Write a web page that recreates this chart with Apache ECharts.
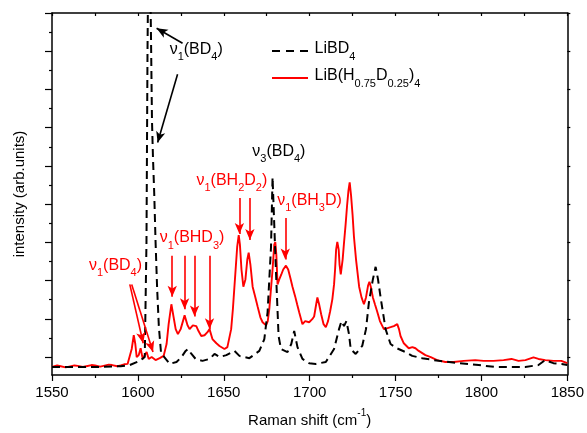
<!DOCTYPE html>
<html>
<head>
<meta charset="utf-8">
<script src="https://cdn.jsdelivr.net/npm/echarts@6/dist/echarts.min.js"></script>
<style>
html,body{margin:0;padding:0;background:#fff;}
#chart{width:587px;height:433px;}
</style>
</head>
<body>
<div id="chart"></div>
<script>
// ---- data (Raman shift in cm^-1, intensity in arb. units) ----
const blackX = [1550,1565,1578,1590,1595.3,1601.1,1604.0,1605.0,1605.6,1606.2,1607.0,1607.6,1608.2,1608.8,1609.5,1610.3,1611.2,1612.2,1613.5,1618.5,1622.5,1625.4,1627.8,1629.1,1631.2,1633.6,1637.6,1641.7,1644.6,1647.5,1651.5,1656.2,1659.1,1664.9,1670.7,1673.6,1675.5,1677.5,1678.4,1679.4,1680.4,1681.9,1683.3,1687.1,1689.3,1691.0,1692.9,1695.8,1699.7,1703.6,1709.4,1714.2,1717.1,1718.5,1720.0,1721.4,1722.9,1723.9,1726.8,1730.6,1732.8,1734.5,1736.8,1738.4,1739.8,1741.3,1744.2,1747.1,1750.8,1755.8,1759.7,1765.5,1775.1,1786.8,1798.4,1808.0,1825.5,1833.2,1837.1,1841.9,1846.7,1850];
const blackY = [-0.26,-0.26,-0.26,-0.24,-0.21,-0.10,0.0,3.0,8.0,11.0,10.5,8.5,6.2,5.2,4.3,3.0,1.8,0.8,0.1,-0.18,-0.13,0.0,0.16,0.21,0.08,-0.05,-0.10,-0.05,0.08,0.0,0.05,0.16,0.03,-0.03,0.16,0.47,1.17,2.88,4.70,3.45,2.21,0.55,0.21,0.13,0.34,0.68,0.26,-0.05,-0.16,-0.18,-0.13,0.21,0.73,0.94,0.81,0.94,0.60,0.21,0.08,0.29,0.73,1.43,2.03,2.36,2.03,1.56,0.73,0.34,0.23,0.13,0.03,-0.03,-0.10,-0.16,-0.21,-0.26,-0.26,-0.21,-0.08,-0.16,-0.18,-0.21];

const redX = [1550,1553,1555,1558,1560,1563,1565,1568,1570,1573,1575,1578,1580,1583,1585,1588,1590,1592,1594,1596.4,1597.6,1598.5,1599.3,1600.5,1601.6,1602.8,1604.0,1605.1,1606.3,1608.0,1610.3,1612.7,1615.0,1616.7,1617.9,1619.5,1620.8,1622.0,1623.3,1624.9,1627.2,1628.9,1630.1,1632.0,1634.0,1635.3,1636.9,1638.8,1640.5,1641.7,1643.4,1645.7,1647.5,1650.4,1652.1,1654.3,1655.3,1656.2,1657.1,1657.8,1658.7,1659.4,1660.3,1661.4,1662.6,1663.7,1664.5,1665.5,1666.8,1668.4,1669.7,1671.3,1672.6,1674.6,1675.6,1676.5,1677.7,1678.4,1679.4,1680.0,1680.6,1681.3,1682.3,1683.5,1684.6,1686.2,1687.5,1688.7,1690.0,1691.6,1692.7,1693.9,1695.8,1697.4,1699.7,1701.5,1702.6,1703.8,1704.5,1705.5,1706.7,1708.1,1709.4,1710.7,1711.9,1713.2,1714.2,1714.8,1715.4,1716.1,1716.9,1717.4,1718.1,1719.2,1720.0,1720.9,1721.8,1722.6,1723.3,1724.1,1725.0,1725.8,1727.0,1728.8,1730.2,1731.6,1732.8,1734.0,1734.8,1735.7,1736.8,1738.0,1739.3,1740.9,1743.2,1745.0,1747.1,1749.0,1751.0,1752.0,1752.9,1754.8,1757.7,1759.8,1761.6,1763.5,1767.4,1770.5,1774.2,1779.0,1783.9,1789.7,1796.4,1801.3,1807.1,1812.9,1817.5,1821.6,1825.6,1830.3,1833.2,1837.2,1841.9,1846.5,1850];
const redY = [-0.26,-0.22,-0.24,-0.27,-0.25,-0.22,-0.23,-0.26,-0.24,-0.21,-0.22,-0.25,-0.23,-0.20,-0.21,-0.24,-0.22,-0.19,-0.18,0.21,0.57,0.34,0.0,0.05,0.23,-0.05,0.05,0.13,-0.05,0.0,-0.08,-0.03,0.03,0.34,0.86,1.38,1.04,0.73,0.60,0.73,1.09,0.83,0.73,0.83,0.81,0.68,0.55,0.57,0.65,0.73,0.47,0.36,0.29,0.21,0.26,0.73,1.25,1.84,2.42,2.88,3.19,2.94,2.29,1.84,2.03,2.55,2.73,2.42,1.84,1.56,1.32,1.04,0.91,0.83,0.94,1.25,1.90,2.29,2.94,3.01,2.68,1.90,2.03,2.16,2.29,2.39,2.29,2.08,1.84,1.58,1.38,1.17,0.86,0.94,0.91,0.99,1.06,1.38,1.56,1.38,1.12,0.86,0.78,0.94,1.19,1.51,1.90,2.29,2.81,3.01,2.81,2.42,2.16,2.55,2.99,3.45,3.97,4.36,4.57,4.23,3.71,3.14,2.55,1.84,1.56,1.38,1.56,1.87,1.97,1.82,1.56,1.38,1.19,0.94,0.73,0.75,0.78,0.81,0.86,0.73,0.55,0.36,0.23,0.26,0.23,0.16,0.05,0.0,-0.08,-0.13,-0.13,-0.10,-0.08,-0.10,-0.10,-0.08,-0.05,-0.10,-0.08,-0.01,-0.05,-0.08,-0.10,-0.10,-0.16];

const seriesNames = ['LiBD4', 'LiB(H0.75D0.25)4'];

// annotation labels
const labelX = [1618.5, 1666.6, 1634.1, 1612.7, 1681.1, 1571.5];
const labelY = [8.0, 5.32, 4.57, 3.06, 4.05, 2.34];
const labelText = [
  '{t|ν}{s|1}{t|(BD}{s|4}{t|)}',
  '{t|ν}{s|3}{t|(BD}{s|4}{t|)}',
  '{t|ν}{s|1}{t|(BH}{s|2}{t|D}{s|2}{t|)}',
  '{t|ν}{s|1}{t|(BHD}{s|3}{t|)}',
  '{t|ν}{s|1}{t|(BH}{s|3}{t|D)}',
  '{t|ν}{s|1}{t|(BD}{s|4}{t|)}'
];
const labelSeries = [0, 0, 1, 1, 1, 1];

// annotation arrows: [x0, y0, x1(tip), y1(tip)]
const blackArrows = [
  [1626.0, 8.21, 1610.9, 8.60],
  [1623.1, 7.40, 1611.5, 5.61]
];
const redArrows = [
  [1659.1, 4.16, 1659.1, 3.22],
  [1665.2, 4.16, 1665.2, 3.06],
  [1620.0, 2.65, 1620.0, 1.58],
  [1627.2, 2.65, 1627.2, 1.25],
  [1633.0, 2.65, 1633.0, 1.06],
  [1641.7, 2.65, 1641.7, 0.73],
  [1685.8, 3.64, 1685.8, 2.55],
  [1595.3, 1.90, 1603.1, 0.36],
  [1596.4, 1.90, 1608.8, 0.13]
];

const yMajor = [0,1,2,3,4,5,6,7,8,9];
const yMinor = [0.5,1.5,2.5,3.5,4.5,5.5,6.5,7.5,8.5];
const Y_MIN = -0.47, Y_MAX = 9;

// ---- build ----
const FONT = 'Liberation Sans, Arial, sans-serif';
const zip = (xs, ys) => xs.map((x, i) => [x, ys[i]]);
const richFor = (color) => ({
  t: {fontSize: 16, fontFamily: FONT, color: color, lineHeight: 20, verticalAlign: 'top'},
  s: {fontSize: 11, fontFamily: FONT, color: color, lineHeight: 11, padding: [10, 0, 0, 0], verticalAlign: 'top'}
});
const colors = ['#000000', '#ff0000'];

function markPoints(si) {
  const d = [];
  labelText.forEach((txt, i) => {
    if (labelSeries[i] !== si) return;
    d.push({
      coord: [labelX[i], labelY[i]],
      symbol: 'circle', symbolSize: 0,
      label: {show: true, position: 'right', distance: 0, formatter: txt, rich: richFor(colors[si])}
    });
  });
  return {silent: true, animation: false, data: d};
}
function markLines(arr, color) {
  return {
    silent: true, animation: false,
    symbol: ['none', 'triangle'],
    symbolSize: 9,
    label: {show: false},
    lineStyle: {color: color, type: 'solid', width: 1.6},
    itemStyle: {color: color},
    emphasis: {disabled: true},
    data: arr.map(a => [
      {coord: [a[0], a[1]], symbol: 'none'},
      {coord: [a[2], a[3]], symbol: 'arrow', symbolSize: [7, 11], itemStyle: {color: color}}
    ])
  };
}

const legendRich = {
  n: {fontSize: 16, fontFamily: FONT, color: '#000', lineHeight: 20, verticalAlign: 'top'},
  s: {fontSize: 11, fontFamily: FONT, color: '#000', lineHeight: 11, padding: [10, 0, 0, 0], verticalAlign: 'top'}
};
const legendFmt = {
  'LiBD4': '{n|LiBD}{s|4}',
  'LiB(H0.75D0.25)4': '{n|LiB(H}{s|0.75}{n|D}{s|0.25}{n|)}{s|4}'
};

const chart = echarts.init(document.getElementById('chart'), null, {renderer: 'canvas'});
const axisLineStyle = {color: '#000', width: 1.5};
const option = {
  animation: false,
  backgroundColor: '#fff',
  grid: {left: 52, right: 18, top: 13, bottom: 57},
  legend: {
    data: [
      {name: seriesNames[0], icon: 'path://M0 0h8v2h-8z M14 0h8v2h-8z M28 0h8v2h-8z', itemStyle: {color: '#000'}},
      {name: seriesNames[1], icon: 'path://M0 0h36v2h-36z', itemStyle: {color: '#ff0000'}}
    ],
    orient: 'vertical', left: 267, top: 36,
    itemWidth: 39, itemHeight: 2, itemGap: 6, itemTextGap: 5,
    formatter: n => legendFmt[n], textStyle: {rich: legendRich},
    selectedMode: false
  },
  xAxis: [{
    type: 'value', position: 'bottom', min: 1550, max: 1850, interval: 50,
    axisLine: {show: true, onZero: false, lineStyle: axisLineStyle},
    axisTick: {show: true, inside: false, length: 6, lineStyle: {color: '#000', width: 1.2}},
    minorTick: {show: true, splitNumber: 2, length: 3, lineStyle: {color: '#000', width: 1.2}},
    splitLine: {show: false},
    axisLabel: {fontSize: 15, fontFamily: FONT, color: '#000', margin: 10, formatter: v => String(v)},
    name: '{t|Raman shift (cm}{p|-1}{t|)}', nameLocation: 'middle', nameGap: 33,
    nameTextStyle: {rich: {
      t: {fontSize: 15, fontFamily: FONT, color: '#000', lineHeight: 20, verticalAlign: 'bottom'},
      p: {fontSize: 10, fontFamily: FONT, color: '#000', lineHeight: 10, padding: [0, 0, 10, 0], verticalAlign: 'bottom'}
    }}
  }, {
    type: 'value', position: 'top', min: 1550, max: 1850, interval: 25,
    axisLine: {show: true, onZero: false, lineStyle: axisLineStyle},
    axisTick: {show: true, inside: true, length: 3, lineStyle: {color: '#000', width: 1.2}},
    axisLabel: {show: false}, splitLine: {show: false}
  }],
  yAxis: [{
    type: 'value', position: 'left', min: Y_MIN, max: Y_MAX,
    axisLine: {show: true, onZero: false, lineStyle: axisLineStyle},
    axisTick: {show: true, inside: false, length: 7, customValues: yMajor, lineStyle: {color: '#000', width: 1.2}},
    axisLabel: {show: false}, splitLine: {show: false},
    name: 'intensity (arb.units)', nameLocation: 'middle', nameGap: 25,
    nameTextStyle: {fontSize: 15, fontFamily: FONT, color: '#000'}
  }, {
    type: 'value', position: 'left', min: Y_MIN, max: Y_MAX,
    axisLine: {show: false, onZero: false},
    axisTick: {show: true, inside: false, length: 3, customValues: yMinor, lineStyle: {color: '#000', width: 1.2}},
    axisLabel: {show: false}, splitLine: {show: false}
  }, {
    type: 'value', position: 'right', min: Y_MIN, max: Y_MAX,
    axisLine: {show: true, onZero: false, lineStyle: axisLineStyle},
    axisTick: {show: true, inside: false, length: 3, customValues: yMajor, lineStyle: {color: '#000', width: 1.2}},
    axisLabel: {show: false}, splitLine: {show: false}
  }],
  series: [{
    name: seriesNames[0], type: 'line', data: zip(blackX, blackY),
    symbol: 'none', smooth: false, clip: true, z: 3,
    lineStyle: {color: '#000', width: 2, type: [8, 5]},
    itemStyle: {color: '#000'},
    markPoint: markPoints(0), markLine: markLines(blackArrows, '#000')
  }, {
    name: seriesNames[1], type: 'line', data: zip(redX, redY),
    symbol: 'none', smooth: false, clip: true, z: 2,
    lineStyle: {color: '#ff0000', width: 1.9},
    itemStyle: {color: '#ff0000'},
    markPoint: markPoints(1), markLine: markLines(redArrows, '#ff0000')
  }]
};
chart.setOption(option);
</script>
</body>
</html>
